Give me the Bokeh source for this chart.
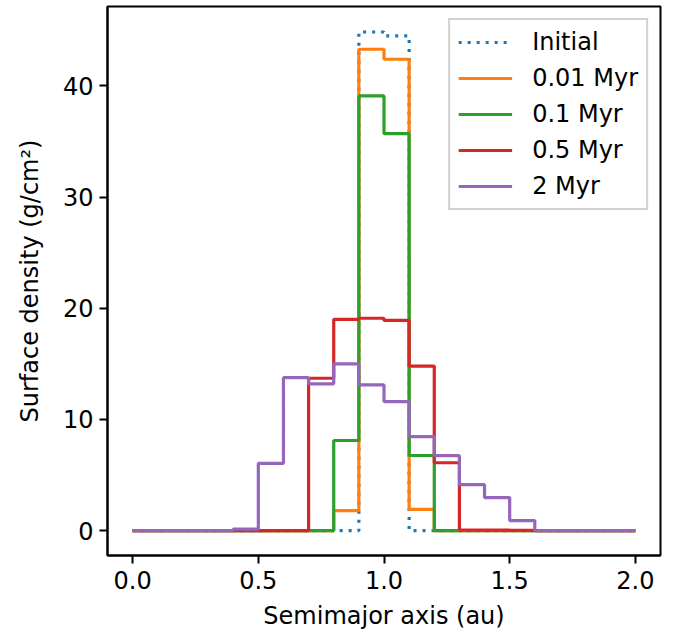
from bokeh.plotting import figure
from bokeh.models import Range1d, Legend, LegendItem, NumeralTickFormatter, FixedTicker
from bokeh.embed import file_html
from bokeh.resources import INLINE

# Bin edges (au)
edges = [round(0.1 * i, 1) for i in range(21)]

# Surface density per bin (g/cm^2), 20 bins of 0.1 au
initial = [0, 0, 0, 0, 0, 0, 0, 0, 0, 44.85, 44.5, 0, 0, 0, 0, 0, 0, 0, 0, 0]
myr_001 = [0, 0, 0, 0, 0, 0, 0, 0, 1.8, 43.3, 42.4, 1.9, 0, 0, 0, 0, 0, 0, 0, 0]
myr_01 = [0, 0, 0, 0, 0, 0, 0, 0, 8.1, 39.1, 35.7, 6.75, 0, 0, 0, 0, 0, 0, 0, 0]
myr_05 = [0, 0, 0, 0, 0, 0, 0, 13.7, 19.0, 19.1, 18.9, 14.8, 6.1, 0.05, 0.04, 0.02, 0, 0, 0, 0]
myr_2 = [0, 0, 0, 0, 0.12, 6.05, 13.75, 13.2, 15.0, 13.1, 11.6, 8.45, 6.74, 4.13, 2.97, 0.9, 0, 0, 0, 0]

series_labels = ["Initial", "0.01 Myr", "0.1 Myr", "0.5 Myr", "2 Myr"]
series_values = [initial, myr_001, myr_01, myr_05, myr_2]
colors = ["#1f77b4", "#ff7f0e", "#2ca02c", "#d62728", "#9467bd"]

x_ticks = [0.0, 0.5, 1.0, 1.5, 2.0]
y_ticks = [0, 10, 20, 30, 40]

FONT = "DejaVu Sans"
FS = "24px"

p = figure(width=678, height=632, output_backend="svg", toolbar_location=None,
           x_range=Range1d(-0.1, 2.1), y_range=Range1d(-2.245, 47.145),
           min_border_left=107, min_border_right=18, min_border_top=6, min_border_bottom=77)

p.xgrid.visible = False
p.ygrid.visible = False
p.outline_line_color = "black"
p.outline_line_width = 2
p.background_fill_color = "white"
p.border_fill_color = "white"

items = []
for lab, vals, col in zip(series_labels, series_values, colors):
    ys = list(vals) + [vals[-1]]
    if lab == "Initial":
        r = p.step(edges, ys, mode="after", line_color=col, line_width=3.2,
                   line_dash="3 6", line_cap="butt")
    else:
        r = p.step(edges, ys, mode="after", line_color=col, line_width=3.2)
    items.append(LegendItem(label=lab, renderers=[r]))

legend = Legend(items=items, location="top_right")
legend.label_text_font = FONT
legend.label_text_font_size = FS
legend.label_text_color = "black"
legend.glyph_width = 54
legend.glyph_height = 28
legend.label_height = 28
legend.spacing = 8
legend.padding = 8
legend.margin = 12
legend.label_standoff = 20
legend.border_line_color = "#cccccc"
legend.border_line_width = 2
legend.border_line_alpha = 0.9
legend.background_fill_alpha = 0.8
p.add_layout(legend)

for ax in (p.xaxis[0], p.yaxis[0]):
    ax.axis_line_width = 2
    ax.major_tick_line_width = 2
    ax.major_tick_in = 0
    ax.major_tick_out = 8
    ax.minor_tick_line_color = None
    ax.major_label_text_font = FONT
    ax.major_label_text_font_size = FS
    ax.major_label_text_color = "black"
    ax.axis_label_text_font = FONT
    ax.axis_label_text_font_size = FS
    ax.axis_label_text_font_style = "normal"
    ax.axis_label_text_color = "black"

p.xaxis[0].major_label_standoff = 7
p.yaxis[0].major_label_standoff = 6
p.xaxis[0].ticker = FixedTicker(ticks=x_ticks)
p.xaxis[0].formatter = NumeralTickFormatter(format="0.0")
p.yaxis[0].ticker = FixedTicker(ticks=y_ticks)
p.xaxis[0].axis_label = "Semimajor axis (au)"
p.yaxis[0].axis_label = "Surface density (g/cm²)"
p.xaxis[0].axis_label_standoff = 10
p.yaxis[0].axis_label_standoff = 16

open("out.html", "w").write(file_html(p, INLINE))
